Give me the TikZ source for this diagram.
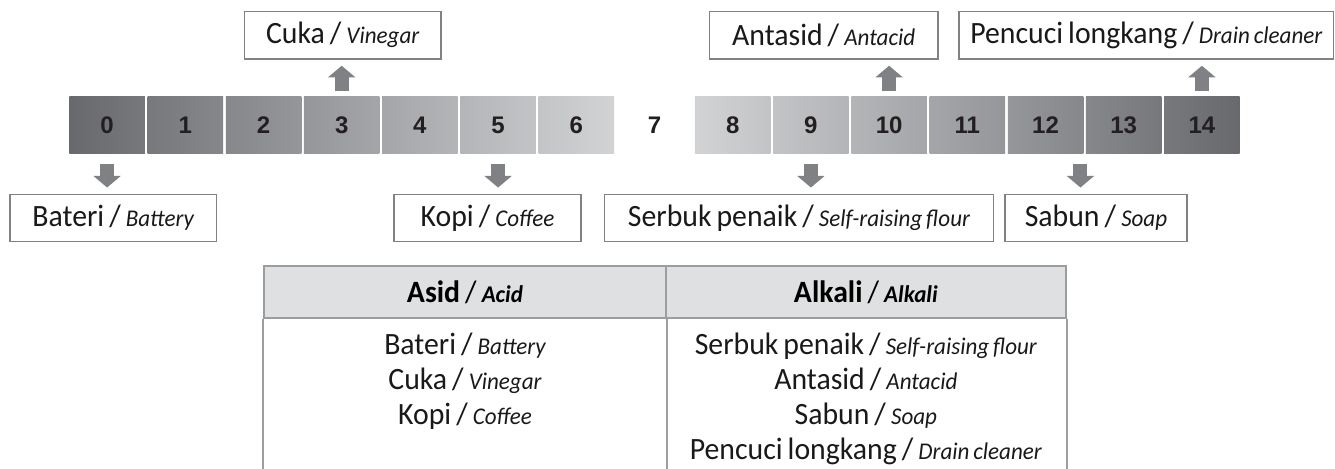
\documentclass[tikz,border=0pt]{standalone}
\usepackage{fontspec}
\setmainfont{Carlito}[FakeStretch=0.96, WordSpace=0.75]
\newfontfamily\numfont{Liberation Sans}
\usepackage{tikz}
\usetikzlibrary{arrows.meta,positioning,calc}
\usepackage{xcolor}
\definecolor{bardark}{RGB}{104,105,109}
\definecolor{barlight}{RGB}{210,211,213}
\definecolor{numcol}{RGB}{35,31,32}
\definecolor{boxcol}{RGB}{128,130,133}
\definecolor{arrcol}{RGB}{128,129,132}
\definecolor{tabline}{RGB}{155,157,160}
\definecolor{tabhead}{RGB}{223,224,225}
\newcommand\engl[1]{{\fontsize{12pt}{14pt}\selectfont\itshape #1}}
\newcommand\engb[1]{{\fontsize{12pt}{14pt}\selectfont\bfseries\itshape #1}}
\tikzset{
  % pH scale cell
  phcell/.style={rectangle, inner sep=0pt, minimum width=37.75pt, minimum height=28.3pt,
                 font=\numfont\bfseries\fontsize{12pt}{14pt}\selectfont, text=numcol},
  % example label box
  lblbox/.style={rectangle, draw=boxcol, line width=0.75pt, fill=white, inner sep=0pt,
                 minimum height=23.7pt, font=\fontsize{15.5pt}{18pt}\selectfont, text=black!90},
  % thick block arrow
  pharrow/.style={-{Triangle[width=13.5pt,length=5.85pt]}, line width=7pt, draw=arrcol},
  % table header cell
  hdcell/.style={rectangle, draw=tabline, fill=tabhead, line width=1pt, inner sep=0pt,
                 minimum height=26.3pt, font=\fontsize{15.5pt}{18pt}\selectfont},
  % table rule
  tabrule/.style={draw=tabline, line width=1pt},
  % table entry
  rowtext/.style={anchor=base, inner sep=0pt, font=\fontsize{15.5pt}{18pt}\selectfont, text=black!90},
}
\begin{document}
\begin{tikzpicture}[x=0.5pt, y=-0.5pt]
  \useasboundingbox (0,0) rectangle (1335,469);
  % acid side of the scale
  \foreach \i in {0,...,6}{
    \pgfmathsetmacro\tl{100*\i/7}
    \pgfmathsetmacro\tr{100*(\i+1)/7}
    \node[phcell, left color=barlight!\tl!bardark, right color=barlight!\tr!bardark]
      (c\i) at ({107.1+78.2*\i},125) {\i};
  }
  % neutral
  \node[phcell] (c7) at (654.5,125) {7};
  % alkali side of the scale
  \foreach \i in {8,...,14}{
    \pgfmathsetmacro\tl{100*(15-\i)/7}
    \pgfmathsetmacro\tr{100*(14-\i)/7}
    \node[phcell, left color=barlight!\tl!bardark, right color=barlight!\tr!bardark]
      (c\i) at ({107.1+78.2*\i},125) {\i};
  }
  % labels above
  \node[lblbox, minimum width=98.35pt] (cuka) at (342.7,35.3) {Cuka / \engl{Vinegar}};
  \node[lblbox, minimum width=114.15pt] (antasid) at (823.7,35.3) {Antasid / \engl{Antacid}};
  \node[lblbox, minimum width=187.25pt] (pencuci) at (1146.3,35.3) {Pencuci longkang / \engl{Drain cleaner}};
  % labels below
  \node[lblbox, minimum width=103.35pt] (bateri) at (113.2,218) {Bateri / \engl{Battery}};
  \node[lblbox, minimum width=93.5pt] (kopi) at (487.5,218) {Kopi / \engl{Coffee}};
  \node[lblbox, minimum width=194.5pt] (serbuk) at (799,218) {Serbuk penaik / \engl{Self-raising flour}};
  \node[lblbox, minimum width=91pt] (sabun) at (1096,218) {Sabun / \engl{Soap}};
  % arrows
  \draw[pharrow, shorten <=2.85pt, shorten >=3pt] (c3.north) -- (c3.north |- cuka.south);
  \draw[pharrow, shorten <=2.85pt, shorten >=3pt] (c10.north) -- (c10.north |- antasid.south);
  \draw[pharrow, shorten <=2.85pt, shorten >=3pt] (c14.north) -- (c14.north |- pencuci.south);
  \draw[pharrow, shorten <=5.35pt, shorten >=3pt] (c0.south) -- (c0.south |- bateri.north);
  \draw[pharrow, shorten <=5.35pt, shorten >=3pt] (c5.south) -- (c5.south |- kopi.north);
  \draw[pharrow, shorten <=5.35pt, shorten >=3pt] (c9.south) -- (c9.south |- serbuk.north);
  \coordinate (sabtop) at ([xshift=-1.6pt]c12.south east);
  \draw[pharrow, shorten <=5.35pt, shorten >=3pt] (sabtop) -- (sabtop |- sabun.north);
  % table
  \node[hdcell, minimum width=200.7pt] (hdA) at (465,292) {\textbf{Asid} / \engb{Acid}};
  \node[hdcell, minimum width=200.15pt] (hdB) at (865.85,292) {\textbf{Alkali} / \engb{Alkali}};
  \coordinate (tabbot) at (0,469);
  \draw[tabrule] (hdA.south west) -- (hdA.south west |- tabbot);
  \draw[tabrule] (hdA.south east) -- (hdA.south east |- tabbot);
  \draw[tabrule] (hdB.south east) -- (hdB.south east |- tabbot);
  \foreach \txt [count=\k] in {Bateri / \engl{Battery}, Cuka / \engl{Vinegar}, Kopi / \engl{Coffee}}
    \node[rowtext] (acid\k) at (465,{355+35*(\k-1)}) {\txt};
  \foreach \txt [count=\k] in {Serbuk penaik / \engl{Self-raising flour}, Antasid / \engl{Antacid},
                               Sabun / \engl{Soap}, Pencuci longkang / \engl{Drain cleaner}}
    \node[rowtext] (alk\k) at (865.85,{355+35*(\k-1)}) {\txt};
\end{tikzpicture}
\end{document}
